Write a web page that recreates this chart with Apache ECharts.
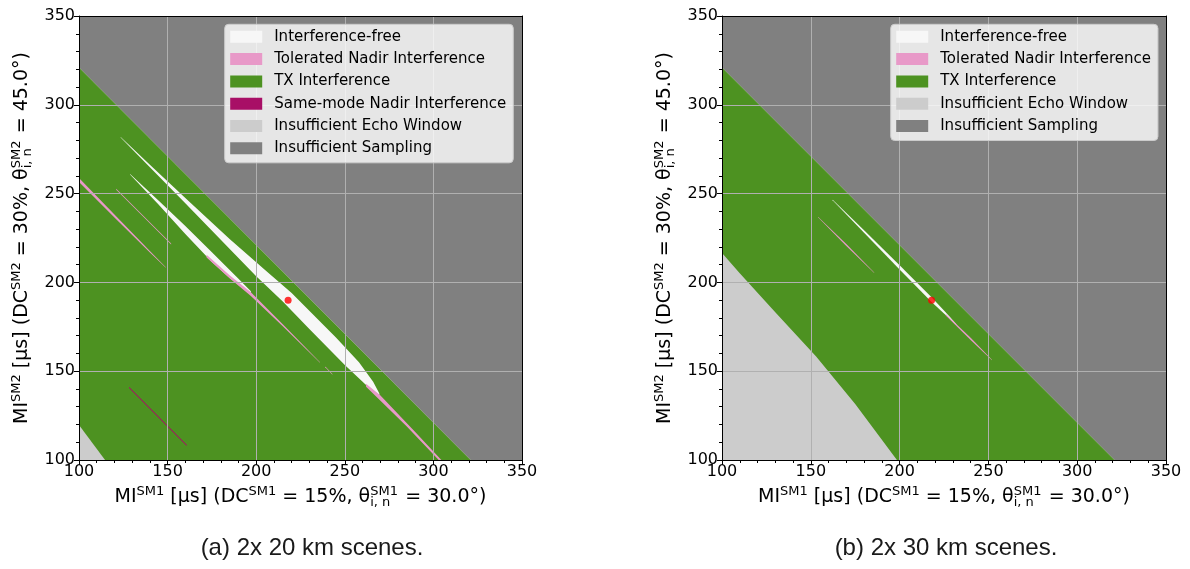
<!DOCTYPE html>
<html><head><meta charset="utf-8">
<script src="https://cdn.jsdelivr.net/npm/echarts/dist/echarts.min.js"></script>
<style>html,body{margin:0;padding:0;background:#fff}#c{width:1190px;height:569px}</style>
</head><body><div id="c"></div>
<script>
// ---------- axis settings ----------
const axisMin = 100, axisMax = 350, tickStep = 50;

// ---------- legend entries ----------
const legendA = ['Interference-free', 'Tolerated Nadir Interference', 'TX Interference',
  'Same-mode Nadir Interference', 'Insufficient Echo Window', 'Insufficient Sampling'];
const legendB = ['Interference-free', 'Tolerated Nadir Interference', 'TX Interference',
  'Insufficient Echo Window', 'Insufficient Sampling'];

// ---------- regions, panel (a): polygons in data units [MI_SM1, MI_SM2] ----------
const samplingA = [[[100, 321], [100, 350], [350, 350], [350, 100], [321, 100]]];
const txA = [[[100, 100], [321, 100], [100, 321]]];
const echoA = [[[100, 100], [114.7, 100], [100, 119.7]]];
const freeA = [
  [[123.5, 281.8], [140, 266.2], [160, 247.5], [185, 224.5], [205, 207], [220, 194], [245, 169],
   [258, 155], [266, 144], [269.5, 137.5], [269.5, 136.5], [262, 142.2], [250, 153.5], [230, 173.8],
   [215, 189.3], [200, 203.5], [180, 224], [160, 244.5], [140, 264.8], [123.5, 281.6]],
  [[128.8, 261], [145, 246], [160, 231.8], [175, 217], [190, 202], [197, 195],
   [197, 193.5], [185, 202.5], [175, 211.5], [160, 227.3], [145, 243.7], [128.8, 260.7]]
];
const toleratedA = [
  [[262, 143], [270, 136.5], [290, 115.5], [304.5, 100], [303, 100], [285, 118.8], [270, 133.5], [262, 141.3]],
  [[172, 215.5], [185, 204], [197, 194.5], [215, 176.5], [236, 155.1],
   [236, 154.7], [215, 175.3], [197, 192.3], [185, 202.3], [172, 214]],
  [[239, 152.6], [243, 148.4], [243, 148.0], [239, 152.2]],
  [[100, 258.8], [120, 238.2], [140, 217.7], [149, 208.5], [149, 208.3], [140, 216.8], [120, 236.5], [100, 256.6]],
  [[121, 252.8], [152, 221.9], [152, 221.3], [121, 252.2]]
];
const sameModeA = [[[128.2, 141.3], [160.8, 108.6], [160.8, 107.9], [128.2, 140.6]]];
const pointA = [[218, 190]];

// ---------- regions, panel (b) ----------
const samplingB = [[[100, 321], [100, 350], [350, 350], [350, 100], [321, 100]]];
const txB = [[[100, 100], [321, 100], [100, 321]]];
const echoB = [[[100, 100], [198.5, 100], [175, 131.5], [153, 158.3], [130, 183.2], [110, 205.2], [100, 216.6]]];
const freeB = [
  [[162.3, 246.5], [180, 229.3], [200, 209.7], [218, 191.7], [228, 181], [232, 176.4],
   [232, 176], [218, 188.9], [200, 207.3], [180, 227.9], [162.3, 246.2]]
];
const toleratedB = [
  [[226, 182.2], [240, 168.8], [252, 156.4], [252, 156.1], [240, 167.6], [226, 181.4]],
  [[154.2, 236.8], [170, 221.6], [185.7, 205.6], [185.7, 205.3], [170, 220.5], [154.2, 236.6]]
];
const pointB = [[218, 190]];

// ---------- styles ----------
const colors = {
  'Interference-free': '#f7f7f7',
  'Tolerated Nadir Interference': '#e899c8',
  'TX Interference': '#4d9221',
  'Same-mode Nadir Interference': '#a80f66',
  'Insufficient Echo Window': '#cccccc',
  'Insufficient Sampling': '#808080'
};
const FONT = 'DejaVu Sans';

function regionSeries(name, polys, gi) {
  return {
    type: 'custom', name: name, coordinateSystem: 'cartesian2d',
    xAxisIndex: gi * 2, yAxisIndex: gi * 2,
    z: 2, silent: true, animation: false,
    itemStyle: { color: colors[name] },
    data: polys.map((p, i) => [p[0][0], p[0][1], i]),
    renderItem: function (params, api) {
      const pts = polys[params.dataIndex].map(p => api.coord(p));
      return { type: 'polygon', shape: { points: pts }, style: { fill: colors[name] } };
    }
  };
}

const richName = {
  n: { fontFamily: FONT, fontSize: 19, lineHeight: 24, color: '#000', align: 'left' },
  sup: { fontFamily: FONT, fontSize: 13, lineHeight: 10, verticalAlign: 'top', color: '#000', align: 'left' },
  sup0: { fontFamily: FONT, fontSize: 13, lineHeight: 10, verticalAlign: 'top', width: 0, color: '#000', align: 'left' },
  sub: { fontFamily: FONT, fontSize: 13, lineHeight: 10, verticalAlign: 'bottom', width: 29, color: '#000', align: 'left' }
};
const xName = '{n|MI}{sup|SM1}{n| [µs] (DC}{sup|SM1}{n| = 15%, θ}{sup0|SM1}{sub|i, n}{n| = 30.0°)}';
const yName = '{n|MI}{sup|SM2}{n| [µs] (DC}{sup|SM2}{n| = 30%, θ}{sup0|SM2}{sub|i, n}{n| = 45.0°)}';

function mainAxis(gi, isX) {
  return {
    type: 'value', gridIndex: gi, min: axisMin, max: axisMax, interval: tickStep,
    position: isX ? 'bottom' : 'left', z: 3,
    name: isX ? xName : yName, nameLocation: 'middle', nameGap: isX ? 24 : 45,
    nameTextStyle: { fontFamily: FONT, fontSize: 19, color: '#000', rich: richName },
    axisLine: { show: true, onZero: false, lineStyle: { color: '#000', width: 1 } },
    axisTick: { show: true, inside: false, length: 5, lineStyle: { color: '#000', width: 1 } },
    minorTick: { show: true, splitNumber: 5, length: 3, lineStyle: { color: '#000', width: 1 } },
    axisLabel: { show: true, fontFamily: FONT, fontSize: 16, color: '#000', margin: 4 },
    splitLine: { show: true, lineStyle: { color: '#b0b0b0', width: 1 } },
    minorSplitLine: { show: false }
  };
}
function frameAxis(gi, isX) {
  return {
    type: 'value', gridIndex: gi, min: axisMin, max: axisMax, interval: tickStep,
    position: isX ? 'top' : 'right', z: 4,
    axisLine: { show: true, onZero: false, lineStyle: { color: '#000', width: 1 } },
    axisTick: { show: false }, axisLabel: { show: false }, splitLine: { show: false }
  };
}
function legendFor(names, left) {
  return {
    data: names, orient: 'vertical', left: left, top: 24.3, z: 10,
    icon: 'rect', itemWidth: 32, itemHeight: 12, itemGap: 6.3,
    padding: [4.5, 7, 6.5, 5.5],
    backgroundColor: 'rgba(255,255,255,0.8)', borderColor: '#cccccc', borderWidth: 1, borderRadius: 4,
    selectedMode: false,
    itemStyle: { borderWidth: 0 },
    textStyle: { fontFamily: FONT, fontSize: 15, color: '#000', lineHeight: 16, padding: [0, 0, 0, 7] }
  };
}
function dotSeries(pts, gi) {
  return {
    type: 'scatter', name: 'design point', xAxisIndex: gi * 2, yAxisIndex: gi * 2,
    z: 6, silent: true, animation: false, symbol: 'circle', symbolSize: 7,
    itemStyle: { color: '#ff0000' }, data: pts
  };
}

const chart = echarts.init(document.getElementById('c'), null, { renderer: 'canvas' });
chart.setOption({
  animation: false,
  backgroundColor: '#ffffff',
  grid: [
    { left: 79, top: 16, width: 443, height: 444, containLabel: false },
    { left: 722, top: 16, width: 444, height: 444, containLabel: false }
  ],
  xAxis: [mainAxis(0, true), frameAxis(0, true), mainAxis(1, true), frameAxis(1, true)],
  yAxis: [mainAxis(0, false), frameAxis(0, false), mainAxis(1, false), frameAxis(1, false)],
  legend: [legendFor(legendA, 224.7), legendFor(legendB, 890.7)],
  series: [
    regionSeries('Insufficient Sampling', samplingA, 0),
    regionSeries('TX Interference', txA, 0),
    regionSeries('Insufficient Echo Window', echoA, 0),
    regionSeries('Interference-free', freeA, 0),
    regionSeries('Tolerated Nadir Interference', toleratedA, 0),
    regionSeries('Same-mode Nadir Interference', sameModeA, 0),
    dotSeries(pointA, 0),
    regionSeries('Insufficient Sampling', samplingB, 1),
    regionSeries('TX Interference', txB, 1),
    regionSeries('Insufficient Echo Window', echoB, 1),
    regionSeries('Interference-free', freeB, 1),
    regionSeries('Tolerated Nadir Interference', toleratedB, 1),
    dotSeries(pointB, 1)
  ],
  graphic: [
    { type: 'text', x: 312, y: 548, z: 10,
      style: { text: '(a) 2x 20 km scenes.', fontFamily: 'Liberation Sans', fontSize: 24, fill: '#1a1a1a', align: 'center', verticalAlign: 'middle' } },
    { type: 'text', x: 946, y: 548, z: 10,
      style: { text: '(b) 2x 30 km scenes.', fontFamily: 'Liberation Sans', fontSize: 24, fill: '#1a1a1a', align: 'center', verticalAlign: 'middle' } }
  ]
});
</script></body></html>
